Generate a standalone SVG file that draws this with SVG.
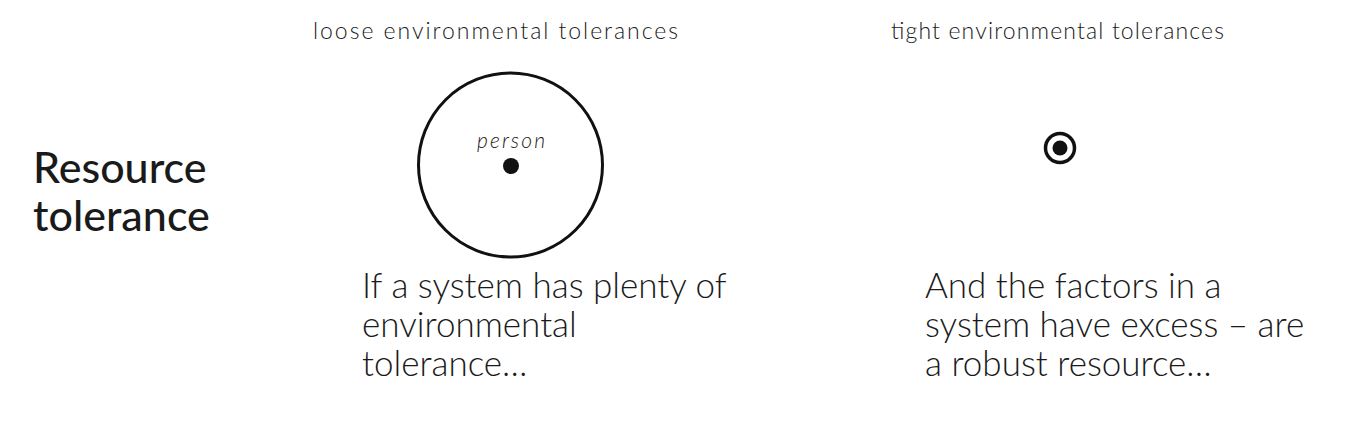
<svg xmlns="http://www.w3.org/2000/svg" width="1364" height="448" viewBox="0 0 1364 448">
<style>
text{font-family:Lato,"Noto Sans",sans-serif;fill:#1a1a1a}
.hdr{font-size:23px;font-weight:300}
.title{font-size:43px;font-weight:500}
.body{font-size:35px;font-weight:300}
.lbl{font-size:21px;font-style:italic;font-weight:300}
.ring{fill:none;stroke:#111;stroke-width:3}
.dot{fill:#111}
</style>
<rect width="1364" height="448" fill="#fff"/>
<g id="title"><text class="title" x="33" y="183">Resource</text><text class="title" x="33" y="231">tolerance</text></g>
<g id="header-loose"><text class="hdr" x="313" y="39" textLength="365" lengthAdjust="spacing">loose environmental tolerances</text></g>
<g id="header-tight"><text class="hdr" x="891" y="39" textLength="333" lengthAdjust="spacing">tight environmental tolerances</text></g>
<g id="loose-node">
<circle class="ring" cx="510.5" cy="165" r="92"/>
<circle class="dot" cx="511" cy="166" r="8"/>
<text class="lbl" x="477" y="148" textLength="68" lengthAdjust="spacing">person</text>
</g>
<g id="tight-node">
<circle class="ring" cx="1060" cy="148" r="14.5" style="stroke-width:3.5"/>
<circle class="dot" cx="1060" cy="148" r="7.5"/>
</g>
<g id="text-loose"><text class="body" x="362" y="298">If a system has plenty of</text><text class="body" x="362" y="337">environmental</text><text class="body" x="362" y="376">tolerance…</text></g>
<g id="text-tight"><text class="body" x="925" y="298">And the factors in a</text><text class="body" x="925" y="337">system have excess – are</text><text class="body" x="925" y="376">a robust resource…</text></g>
<g id="connectors"/>
</svg>
